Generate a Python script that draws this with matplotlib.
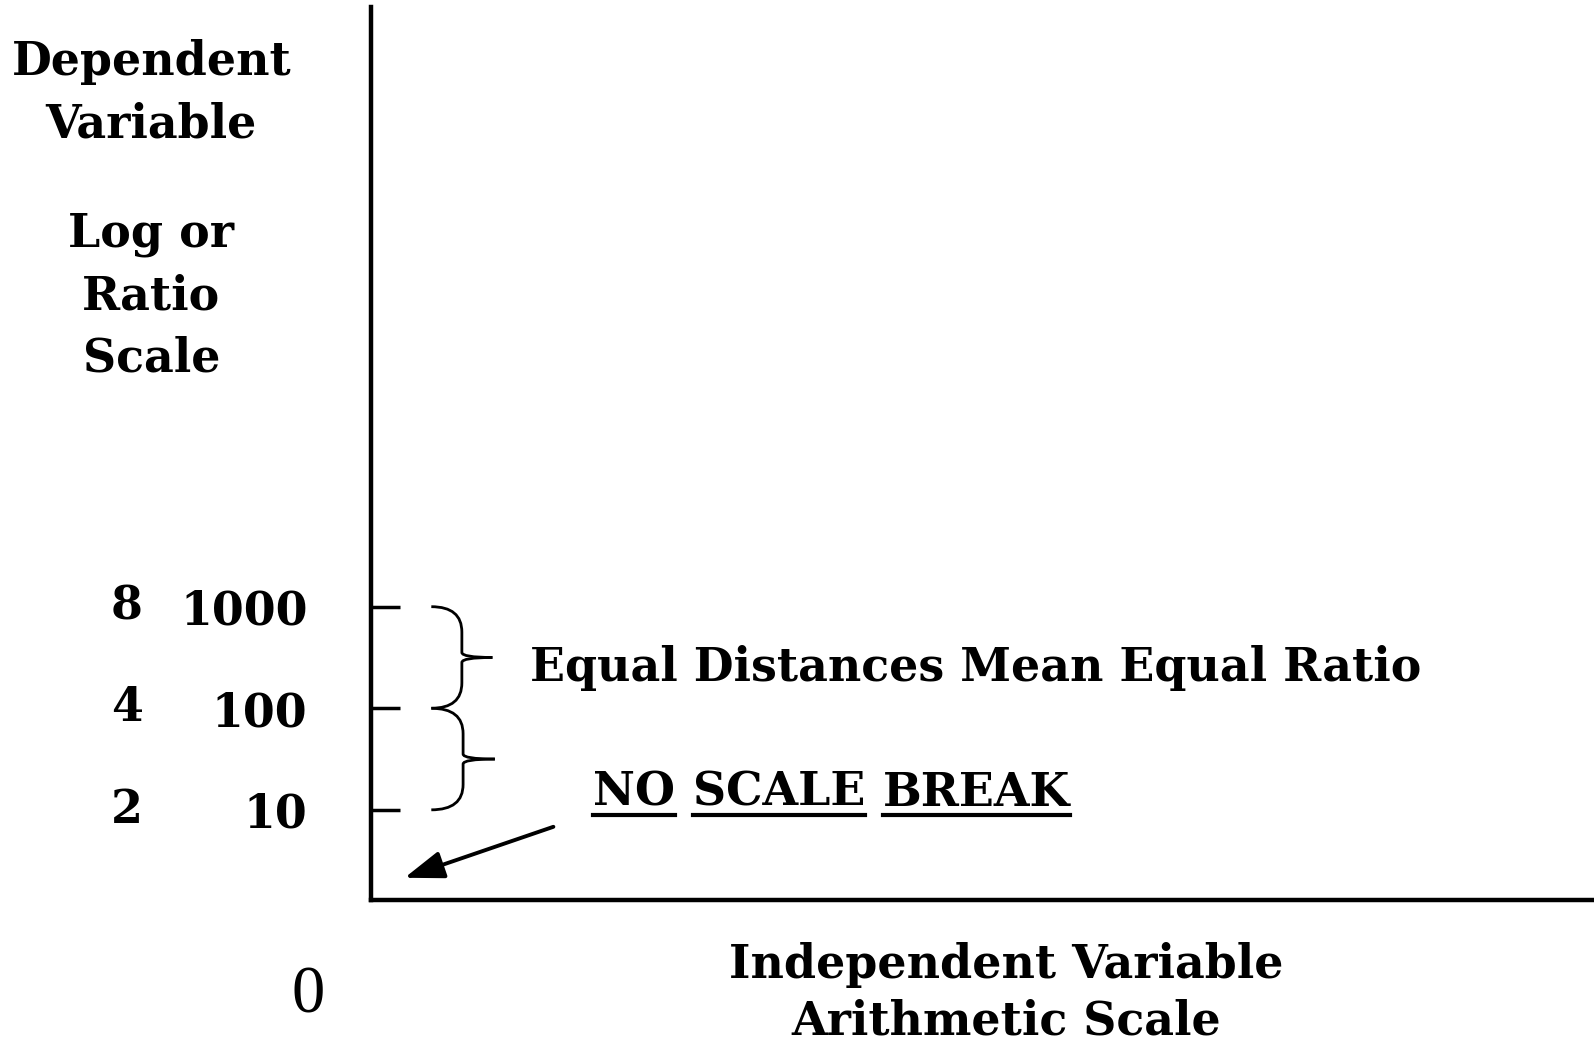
import matplotlib
matplotlib.use('Agg')
import matplotlib.pyplot as plt
from matplotlib.patches import PathPatch
from matplotlib.path import Path
from matplotlib.lines import Line2D

# values on the log (ratio) scale
tick_vals = [10, 100, 1000]
ratio_vals = ['2', '4', '8']
ylim = (1.3, 10 ** 8.9)
break_words = ['NO', 'SCALE', 'BREAK']

plt.rcParams['font.family'] = ['DejaVu Serif']
plt.rcParams['font.weight'] = 'bold'
FS = 33

fig = plt.figure(figsize=(15.94, 10.50), dpi=100)
ax = fig.add_axes([0.233, 0.143, 0.767, 0.85])
ax.set_yscale('log')
ax.set_ylim(*ylim)
ax.set_xlim(0, 1)

for s in ['top', 'right']:
    ax.spines[s].set_visible(False)
ax.spines['left'].set_linewidth(3.2)
ax.spines['bottom'].set_linewidth(3.2)

ax.set_xticks([])
ax.minorticks_off()
ax.set_yticks(tick_vals, [str(v) for v in tick_vals])
ax.tick_params(axis='y', direction='in', length=21, width=2.5, pad=46,
               labelsize=FS)
for lab in ax.get_yticklabels():
    lab.set_fontweight('bold')

ytr = ax.get_yaxis_transform()
for r, v in zip(ratio_vals, tick_vals):
    ax.text(-0.200, v, r, transform=ytr, ha='center', va='center',
            fontsize=FS, fontweight='bold')


def brace(y0, y1, x0, x1):
    # curly brace between two ticks, tip pointing right at the log midpoint
    ym = (y0 * y1) ** 0.5
    xm = (x0 + x1) / 2
    top = Path([(x0, y1), (xm, y1), (xm, (ym * y1) ** 0.5), (xm, ym * 1.12),
                (xm, ym), (x1, ym)],
               [Path.MOVETO, Path.CURVE3, Path.CURVE3, Path.LINETO,
                Path.CURVE3, Path.CURVE3])
    bot = Path([(x0, y0), (xm, y0), (xm, (y0 * ym) ** 0.5), (xm, ym / 1.12),
                (xm, ym), (x1, ym)],
               [Path.MOVETO, Path.CURVE3, Path.CURVE3, Path.LINETO,
                Path.CURVE3, Path.CURVE3])
    for p in (top, bot):
        ax.add_patch(PathPatch(p, transform=ytr, fill=False, lw=2,
                               color='black'))


brace(tick_vals[1], tick_vals[2], 0.049, 0.099)
brace(tick_vals[0], tick_vals[1], 0.049, 0.101)

ax.text(0.130, 251, 'Equal Distances Mean Equal Ratio', transform=ytr,
        ha='left', va='center', fontsize=FS, fontweight='bold')

ax.annotate('', xy=(0.025, 2.1), xytext=(0.151, 6.95),
            xycoords=ytr, textcoords=ytr,
            arrowprops=dict(arrowstyle='-|>,head_length=2.4,head_width=0.85',
                            lw=2.8, color='black'))

# NO SCALE BREAK, each word underlined
word_texts = []
x = 0.181
fig.canvas.draw()
r = fig.canvas.get_renderer()
for w in break_words:
    t = ax.text(x, 14.7, w, transform=ytr, ha='left', va='center',
                fontsize=FS, fontweight='bold')
    bb = t.get_window_extent(renderer=r)
    word_texts.append(t)
    x += (bb.width + 18) / ax.bbox.width
fig.canvas.draw()
inv = fig.transFigure.inverted()
for t in word_texts:
    bb = t.get_window_extent(renderer=r)
    (x0, y0), (x1, _) = inv.transform([(bb.x0, bb.y0 + 1), (bb.x1, bb.y0)])
    fig.add_artist(Line2D([x0, x1], [y0, y0], transform=fig.transFigure,
                          lw=3, color='black'))

fig.text(0.095, 0.911, 'Dependent\nVariable', ha='center', va='center',
         fontsize=FS, fontweight='bold', linespacing=1.45)
fig.text(0.095, 0.718, 'Log or\nRatio\nScale', ha='center', va='center',
         fontsize=FS, fontweight='bold', linespacing=1.45)
fig.text(0.193, 0.051, '0', ha='center', va='center', fontsize=48,
         fontweight='normal', family='Liberation Serif')
fig.text(0.631, 0.054, 'Independent Variable\nArithmetic Scale',
         ha='center', va='center', fontsize=FS, fontweight='bold',
         linespacing=1.3)

fig.savefig('out.png', dpi=100)
